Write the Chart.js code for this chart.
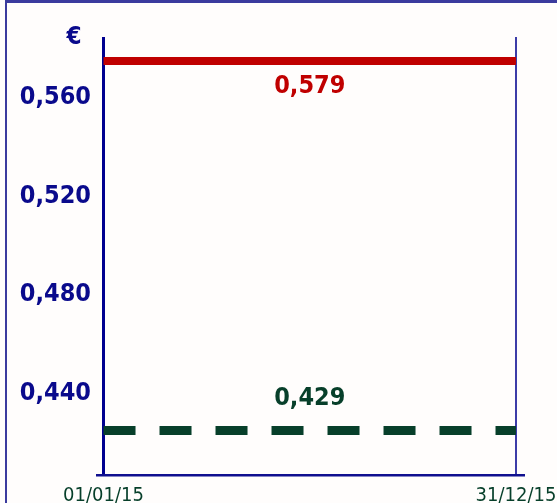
<!DOCTYPE html>
<html>
<head>
<meta charset="utf-8">
<script src="https://cdn.jsdelivr.net/npm/chart.js@4/dist/chart.umd.min.js"></script>
<style>
  html, body { margin: 0; padding: 0; background: #fffdfc; }
  #wrap { position: relative; width: 557px; height: 503px; overflow: hidden; }
  #frame { position: absolute; left: 5px; top: 0; width: 700px; height: 700px;
           border-top: 3px solid #3b3b9e; border-left: 2px solid #3b3b9e; box-sizing: border-box; }
  canvas { position: absolute; left: 0; top: 0; }
</style>
</head>
<body>
<div id="wrap">
  <div id="frame"></div>
  <canvas id="c" width="557" height="503"></canvas>
</div>
<script>
// Period bounds and the two price levels over the year
const periods = ['01/01/15', '31/12/15'];
const highPrice = [0.579, 0.579];
const lowPrice = [0.429, 0.429];
const yTickValues = [0.44, 0.48, 0.52, 0.56];
const currency = '€';

const FONT = "'DejaVu Sans Condensed', 'DejaVu Sans', sans-serif";
const NAVY = '#0a0a8c';
const RED = '#c00000';
const GREEN = '#073f2a';

const fmt = v => v.toFixed(3).replace('.', ',');
const toPoints = arr => arr.map((v, i) => ({ x: i, y: v }));

// Writes each level's value next to its line, plus the currency sign above the axis
const levelLabels = {
  id: 'levelLabels',
  afterDatasetsDraw(chart, args, opts) {
    const ctx = chart.ctx;
    ctx.save();
    ctx.textAlign = 'center';
    ctx.textBaseline = 'middle';
    ctx.font = 'bold 25px ' + FONT;
    chart.data.datasets.forEach((ds, i) => {
      const pts = chart.getDatasetMeta(i).data;
      const x = (pts[0].x + pts[pts.length - 1].x) / 2;
      const y = pts[0].y + opts.shift[i];
      ctx.fillStyle = ds.borderColor;
      ctx.fillText(fmt(ds.data[0].y), x, y);
    });
    const ys = chart.scales.y;
    ctx.fillStyle = NAVY;
    ctx.font = 'bold 24px ' + FONT;
    ctx.fillText(currency, ys.right - 23, chart.chartArea.top + 1);
    ctx.restore();
  }
};

new Chart(document.getElementById('c'), {
  type: 'line',
  data: {
    datasets: [
      {
        data: toPoints(highPrice),
        borderColor: RED,
        borderWidth: 8,
        pointRadius: 0,
        borderCapStyle: 'butt'
      },
      {
        data: toPoints(lowPrice),
        borderColor: GREEN,
        borderWidth: 9,
        borderDash: [32, 24],
        pointRadius: 0,
        borderCapStyle: 'butt'
      }
    ]
  },
  options: {
    responsive: false,
    animation: false,
    layout: { padding: { top: 37, right: 34, left: 0, bottom: 0 } },
    plugins: {
      legend: { display: false },
      tooltip: { enabled: false },
      levelLabels: { shift: [26, -32] }
    },
    scales: {
      x: {
        type: 'linear',
        min: -0.0158,
        max: 1.017,
        afterBuildTicks: s => { s.ticks = periods.map((p, i) => ({ value: i })); },
        afterFit: s => { s.height = 28; s.paddingLeft = 0; s.paddingRight = 0; },
        ticks: {
          callback: (v) => periods[v],
          color: GREEN,
          font: { family: FONT, size: 20 },
          padding: 9,
          maxRotation: 0
        },
        grid: {
          drawTicks: false,
          color: c => (c.index === 0 ? '#000090' : '#3c3ca8'),
          lineWidth: c => (c.index === 0 ? 3 : 2)
        },
        border: { display: true, color: '#10108f', width: 2.5 }
      },
      y: {
        min: 0.41093,
        max: 0.58874,
        afterBuildTicks: s => { s.ticks = yTickValues.map(v => ({ value: v })); },
        afterFit: s => { s.width = 97; s.paddingTop = 0; s.paddingBottom = 0; },
        ticks: {
          callback: v => fmt(v),
          color: NAVY,
          font: { family: FONT, size: 25, weight: 'bold' },
          padding: 6,
          labelOffset: -10
        },
        grid: { display: false, drawTicks: false },
        border: { display: false }
      }
    }
  },
  plugins: [levelLabels]
});
</script>
</body>
</html>
